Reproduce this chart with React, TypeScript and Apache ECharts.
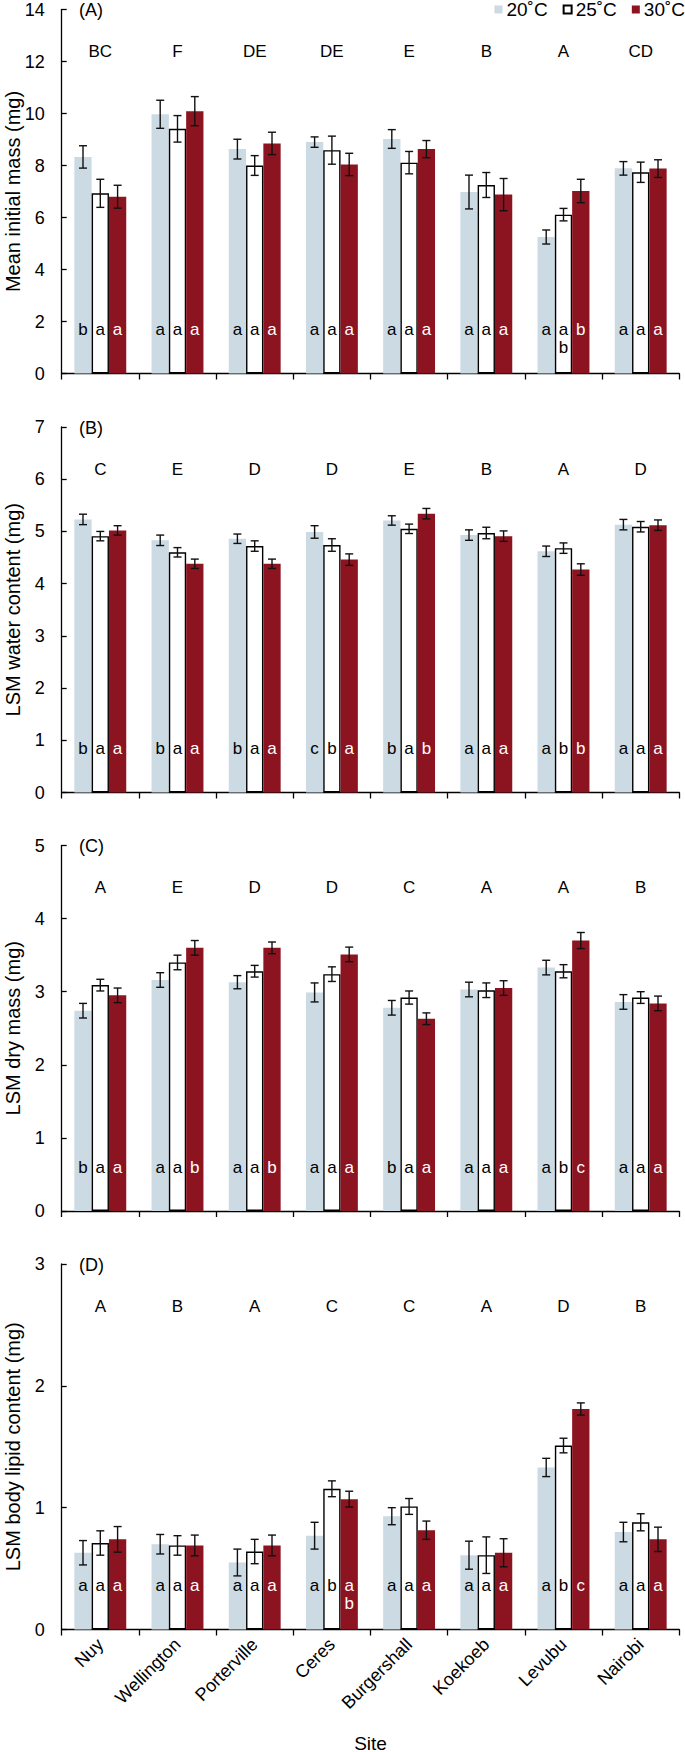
import React, { useEffect, useRef } from 'react';
import * as echarts from 'echarts';

// ---------- data ----------
const sites = ['Nuy', 'Wellington', 'Porterville', 'Ceres', 'Burgershall', 'Koekoeb', 'Levubu', 'Nairobi'];
const temps = ['20˚C', '25˚C', '30˚C'];

// (A) Mean initial mass (mg)
const massT20 = [8.33, 9.97, 8.63, 8.9, 9.02, 6.98, 5.25, 7.89];
const massT25 = [6.93, 9.41, 8.0, 8.59, 8.11, 7.25, 6.11, 7.74];
const massT30 = [6.8, 10.09, 8.85, 8.04, 8.63, 6.88, 7.02, 7.88];
const massE20 = [0.43, 0.54, 0.38, 0.2, 0.36, 0.65, 0.27, 0.26];
const massE25 = [0.54, 0.51, 0.38, 0.54, 0.43, 0.48, 0.24, 0.39];
const massE30 = [0.44, 0.56, 0.43, 0.43, 0.33, 0.62, 0.45, 0.34];
const massGroups = ['BC', 'F', 'DE', 'DE', 'E', 'B', 'A', 'CD'];
const massL20 = ['b', 'a', 'a', 'a', 'a', 'a', 'a', 'a'];
const massL25 = ['a', 'a', 'a', 'a', 'a', 'a', 'a\nb', 'a'];
const massL30 = ['a', 'a', 'a', 'a', 'a', 'a', 'b', 'a'];

// (B) LSM water content (mg)
const waterT20 = [5.23, 4.83, 4.86, 4.99, 5.21, 4.93, 4.62, 5.13];
const waterT25 = [4.91, 4.6, 4.72, 4.74, 5.05, 4.97, 4.68, 5.09];
const waterT30 = [5.02, 4.38, 4.38, 4.46, 5.34, 4.91, 4.27, 5.12];
const waterE20 = [0.1, 0.1, 0.09, 0.12, 0.09, 0.1, 0.1, 0.1];
const waterE25 = [0.09, 0.09, 0.1, 0.12, 0.09, 0.11, 0.1, 0.1];
const waterE30 = [0.09, 0.09, 0.09, 0.11, 0.1, 0.1, 0.11, 0.1];
const waterGroups = ['C', 'E', 'D', 'D', 'E', 'B', 'A', 'D'];
const waterL20 = ['b', 'b', 'b', 'c', 'b', 'a', 'a', 'a'];
const waterL25 = ['a', 'a', 'a', 'b', 'a', 'a', 'b', 'a'];
const waterL30 = ['a', 'a', 'a', 'a', 'b', 'a', 'b', 'a'];

// (C) LSM dry mass (mg)
const dryT20 = [2.74, 3.16, 3.13, 2.99, 2.78, 3.03, 3.33, 2.86];
const dryT25 = [3.09, 3.4, 3.28, 3.24, 2.92, 3.02, 3.28, 2.92];
const dryT30 = [2.95, 3.6, 3.6, 3.51, 2.63, 3.05, 3.7, 2.84];
const dryE20 = [0.1, 0.1, 0.09, 0.13, 0.1, 0.1, 0.1, 0.1];
const dryE25 = [0.08, 0.1, 0.08, 0.1, 0.09, 0.1, 0.09, 0.08];
const dryE30 = [0.1, 0.1, 0.08, 0.1, 0.08, 0.1, 0.11, 0.1];
const dryGroups = ['A', 'E', 'D', 'D', 'C', 'A', 'A', 'B'];
const dryL20 = ['b', 'a', 'a', 'a', 'b', 'a', 'a', 'a'];
const dryL25 = ['a', 'a', 'a', 'a', 'a', 'a', 'b', 'a'];
const dryL30 = ['a', 'b', 'b', 'a', 'a', 'a', 'c', 'a'];

// (D) LSM body lipid content (mg)
const lipidT20 = [0.63, 0.7, 0.55, 0.77, 0.93, 0.61, 1.33, 0.8];
const lipidT25 = [0.71, 0.69, 0.64, 1.155, 1.01, 0.61, 1.51, 0.88];
const lipidT30 = [0.74, 0.69, 0.69, 1.07, 0.815, 0.63, 1.81, 0.74];
const lipidE20 = [0.1, 0.08, 0.11, 0.11, 0.07, 0.115, 0.075, 0.08];
const lipidE25 = [0.1, 0.08, 0.1, 0.065, 0.065, 0.15, 0.06, 0.07];
const lipidE30 = [0.105, 0.085, 0.085, 0.065, 0.075, 0.115, 0.05, 0.1];
const lipidGroups = ['A', 'B', 'A', 'C', 'C', 'A', 'D', 'B'];
const lipidL20 = ['a', 'a', 'a', 'a', 'a', 'a', 'a', 'a'];
const lipidL25 = ['a', 'a', 'a', 'b', 'a', 'a', 'b', 'a'];
const lipidL30 = ['a', 'a', 'a', 'a\nb', 'a', 'a', 'c', 'a'];

// ---------- styling / layout ----------
const FONT = '"Liberation Sans", Arial, Helvetica, sans-serif';
const COLORS = ['#cbdae3', '#ffffff', '#8c1421'];
const LABEL_COLORS = ['#000', '#000', '#fff'];
const BAR_W = 17.3;
const GRID_LEFT = 61.7;
const GRID_RIGHT = 5.7;
const GRID_TOPS = [9.5, 427, 845.5, 1264];
const GRID_HEIGHTS = [364, 365.5, 365.5, 365.5];
const GROUP_LETTER_OFFSET = 42; // px below top of plot

const panels = [
  { tag: '(A)', name: 'Mean initial mass (mg)', max: 14, interval: 2,
    means: [massT20, massT25, massT30], errs: [massE20, massE25, massE30],
    groups: massGroups, letters: [massL20, massL25, massL30] },
  { tag: '(B)', name: 'LSM water content (mg)', max: 7, interval: 1,
    means: [waterT20, waterT25, waterT30], errs: [waterE20, waterE25, waterE30],
    groups: waterGroups, letters: [waterL20, waterL25, waterL30] },
  { tag: '(C)', name: 'LSM dry mass (mg)', max: 5, interval: 1,
    means: [dryT20, dryT25, dryT30], errs: [dryE20, dryE25, dryE30],
    groups: dryGroups, letters: [dryL20, dryL25, dryL30] },
  { tag: '(D)', name: 'LSM body lipid content (mg)', max: 3, interval: 1,
    means: [lipidT20, lipidT25, lipidT30], errs: [lipidE20, lipidE25, lipidE30],
    groups: lipidGroups, letters: [lipidL20, lipidL25, lipidL30] },
];

function buildOption() {
  const grid: any[] = [];
  const xAxis: any[] = [];
  const yAxis: any[] = [];
  const title: any[] = [];
  const series: any[] = [];
  const last = panels.length - 1;

  panels.forEach((p, i) => {
    const gh = GRID_HEIGHTS[i];
    grid.push({
      left: GRID_LEFT, right: GRID_RIGHT, top: GRID_TOPS[i], height: gh,
      containLabel: false, outerBoundsMode: 'none',
    });
    title.push({
      text: p.tag, left: 79, top: Math.max(0.5, GRID_TOPS[i] - 8.5), padding: 0,
      textStyle: { fontFamily: FONT, fontSize: 18, fontWeight: 'normal', color: '#000' },
    });
    xAxis.push({
      type: 'category', gridIndex: i, data: sites,
      axisLine: { show: true, lineStyle: { color: '#000', width: 1.3 } },
      axisTick: { show: true, inside: false, length: 6, interval: 0, lineStyle: { color: '#000', width: 1.3 } },
      axisLabel: {
        show: i === last, rotate: 45, interval: 0, margin: 12,
        fontFamily: FONT, fontSize: 18, color: '#000',
      },
      splitLine: { show: false },
      name: i === last ? 'Site' : '',
      nameLocation: 'middle', nameGap: 104, nameMoveOverlap: false,
      nameTextStyle: { fontFamily: FONT, fontSize: 19, color: '#000' },
    });
    yAxis.push({
      type: 'value', gridIndex: i, min: 0, max: p.max, interval: p.interval,
      axisLine: { show: true, lineStyle: { color: '#000', width: 1.3 } },
      axisTick: { show: true, inside: true, length: 5, lineStyle: { color: '#000', width: 1.3 } },
      axisLabel: { fontFamily: FONT, fontSize: 18, color: '#000', margin: 17 },
      splitLine: { show: false },
      name: p.name, nameLocation: 'middle', nameGap: 39, nameRotate: 90, nameMoveOverlap: false,
      nameTextStyle: { fontFamily: FONT, fontSize: 20, color: '#000' },
    });

    // bars
    p.means.forEach((vals, k) => {
      series.push({
        type: 'bar', name: temps[k], xAxisIndex: i, yAxisIndex: i,
        data: vals, barWidth: BAR_W, barGap: '0%',
        itemStyle: k === 1
          ? { color: COLORS[k], borderColor: '#000', borderWidth: 1.4 }
          : { color: COLORS[k], borderWidth: 0 },
        label: {
          show: true, position: 'insideBottom', distance: 53, verticalAlign: 'top', align: 'center',
          formatter: (prm: any) => p.letters[k][prm.dataIndex],
          fontFamily: FONT, fontSize: 17, lineHeight: 18, color: LABEL_COLORS[k],
        },
        z: 2,
      });
    });

    // error bars
    const errData: number[][] = [];
    p.means.forEach((vals, k) => {
      vals.forEach((m, j) => errData.push([j, m, p.errs[k][j], k]));
    });
    series.push({
      type: 'custom', xAxisIndex: i, yAxisIndex: i, silent: true, z: 5,
      data: errData,
      encode: { x: 0, y: 1 },
      renderItem: (params: any, api: any) => {
        const c = api.value(0), m = api.value(1), e = api.value(2), k = api.value(3);
        const top = api.coord([c, m + e]);
        const bot = api.coord([c, m - e]);
        const x = top[0] + (k - 1) * BAR_W;
        const st = { stroke: '#111', lineWidth: 1.4 };
        return {
          type: 'group',
          children: [
            { type: 'line', shape: { x1: x, y1: top[1], x2: x, y2: bot[1] }, style: st },
            { type: 'line', shape: { x1: x - 4, y1: top[1], x2: x + 4, y2: top[1] }, style: st },
            { type: 'line', shape: { x1: x - 4, y1: bot[1], x2: x + 4, y2: bot[1] }, style: st },
          ],
        };
      },
    });

    // group (site) letters
    const level = p.max - (GROUP_LETTER_OFFSET * p.max) / gh;
    series.push({
      type: 'scatter', xAxisIndex: i, yAxisIndex: i, silent: true, z: 6,
      data: p.groups.map(() => level),
      symbolSize: 1, itemStyle: { color: 'rgba(255,255,255,0)' },
      label: {
        show: true, position: 'inside', opacity: 1,
        formatter: (prm: any) => p.groups[prm.dataIndex],
        fontFamily: FONT, fontSize: 17, color: '#000',
        textBorderWidth: 0, textShadowBlur: 0,
      },
      emphasis: { disabled: true },
    });
  });

  return {
    animation: false,
    backgroundColor: '#fff',
    textStyle: { fontFamily: FONT },
    title,
    legend: {
      data: temps, top: 0, right: 0, padding: 0,
      icon: 'rect', itemWidth: 8, itemHeight: 8, itemGap: 15,
      textStyle: { fontFamily: FONT, fontSize: 19, color: '#000', padding: [0, 0, 0, -1] },
    },
    grid, xAxis, yAxis, series,
  };
}

export default function App() {
  const ref = useRef<HTMLDivElement>(null);
  useEffect(() => {
    if (!ref.current) return;
    const chart = echarts.init(ref.current, undefined, { renderer: 'svg' });
    chart.setOption(buildOption() as any);
    return () => chart.dispose();
  }, []);
  return (
    <div
      ref={ref}
      style={{ position: 'absolute', left: 0, top: 0, width: 685, height: 1752, background: '#fff' }}
    />
  );
}
